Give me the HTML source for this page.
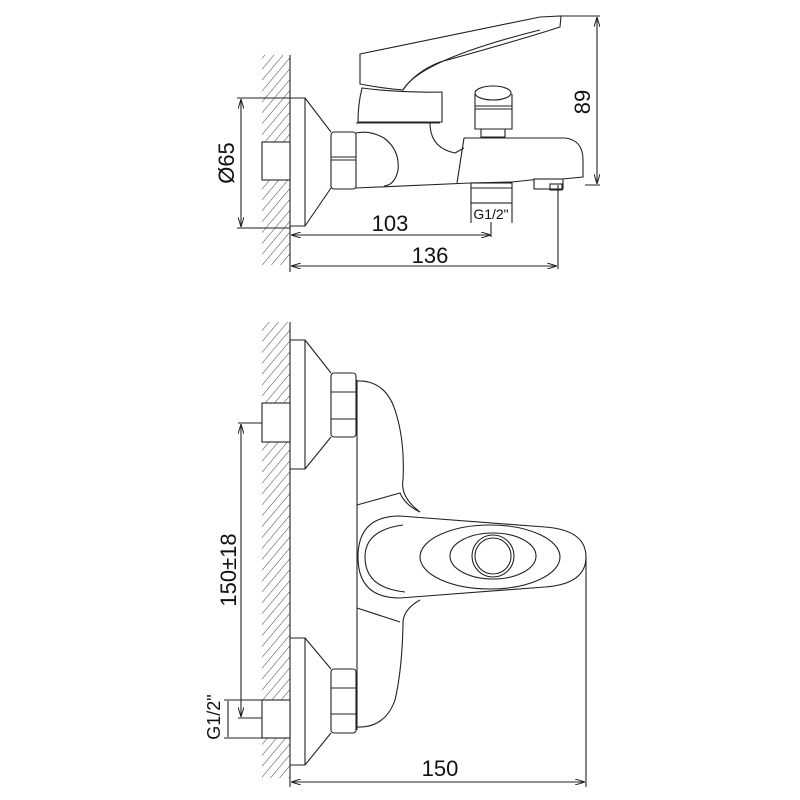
<!DOCTYPE html>
<html><head><meta charset="utf-8"><style>html,body{margin:0;padding:0;background:#fff}svg{display:block}text{font-family:"Liberation Sans",sans-serif;fill:#111}</style></head><body>
<svg width="800" height="800" viewBox="0 0 800 800" xmlns="http://www.w3.org/2000/svg">
<defs>
<pattern id="h" width="7" height="7" patternUnits="userSpaceOnUse" patternTransform="rotate(40)">
<line x1="0" y1="0" x2="0" y2="7" stroke="#444" stroke-width="1"/>
</pattern>
<marker id="a" markerWidth="10" markerHeight="6" refX="10" refY="3" orient="auto-start-reverse" markerUnits="userSpaceOnUse"><path d="M0,0 L10,3 L0,6" fill="none" stroke="#222" stroke-width="1"/></marker>
</defs>
<g fill="none" stroke="#222" stroke-width="1.1">
<!-- TOP VIEW -->
<rect x="262" y="55" width="28" height="210" fill="url(#h)" stroke="none"/>
<line x1="290" y1="55" x2="290" y2="272"/>
<rect x="262" y="142" width="28" height="38" fill="#fff"/>
<path d="M290,98 H305 V226 H290"/>
<path d="M305,98 L331,132 M305,226 L331,188"/>
<rect x="331" y="132" width="25" height="57" rx="3" fill="#fff"/>
<line x1="331" y1="160" x2="356" y2="160"/>
<line x1="331" y1="157" x2="356" y2="157"/>
<!-- body -->
<path d="M356,133 Q370,130 384,138 Q400,150 398,170 Q395,185 384,186"/>
<path d="M356,123 H440"/>
<path d="M430,123 Q430,148 455,153 L464,148"/>
<path d="M464,138 L457,183"/>
<path d="M356,188 L470,183 L512,182 L540,179"/>
<path d="M464,138 H565 Q583,140 583,160 V177 L562,179"/>
<rect x="534" y="179" width="29" height="10" fill="#fff"/>
<rect x="550" y="184" width="12" height="6"/>
<!-- upper cylinder -->
<path d="M362,88 Q400,93 442,92 V122 H358 Q358,104 362,88 Z"/>
<!-- handle -->
<path d="M360,54 L540,17 L561,16 L560,27 Q520,40 440,62 Q415,72 403,90 Q380,88 360,84 Z" fill="#fff"/>
<path d="M403,90 Q420,60 540,30"/>
<!-- diverter -->
<ellipse cx="493" cy="93" rx="18" ry="7" fill="#fff"/>
<path d="M475,94 V129 H512 V94"/>
<line x1="475" y1="106" x2="512" y2="106"/><line x1="475" y1="109" x2="512" y2="109"/>
<path d="M481,129 V137 H505 V129"/>
<!-- bottom connection -->
<rect x="471" y="183" width="41" height="20" fill="#fff"/>
<line x1="471" y1="188" x2="512" y2="188"/>
<path d="M471,203 V223 M512,203 V223"/>
<!-- dims -->
<path d="M290,98 H237 M290,228 H237"/>
<line x1="241" y1="99" x2="241" y2="227" marker-start="url(#a)" marker-end="url(#a)"/>
<path d="M561,16 H600 M585,185 H600"/>
<line x1="597" y1="17" x2="597" y2="184" marker-start="url(#a)" marker-end="url(#a)"/>
<line x1="291" y1="235" x2="491" y2="235" marker-start="url(#a)" marker-end="url(#a)"/>
<line x1="491" y1="222" x2="491" y2="237"/>
<line x1="558" y1="185" x2="558" y2="269"/>
<line x1="291" y1="266" x2="557" y2="266" marker-start="url(#a)" marker-end="url(#a)"/>

<!-- BOTTOM VIEW -->
<rect x="262" y="322" width="28" height="456" fill="url(#h)" stroke="none"/>
<line x1="290" y1="322" x2="290" y2="787"/>
<rect x="262" y="403" width="28" height="39" fill="#fff"/>
<rect x="262" y="700" width="28" height="38" fill="#fff"/>
<path d="M290,340 H305 V469 H290 M305,340 L331,373 M305,469 L331,437"/>
<rect x="331" y="373" width="25" height="64" rx="3" fill="#fff"/>
<line x1="331" y1="419" x2="356" y2="419"/><line x1="331" y1="392" x2="356" y2="392"/>
<path d="M290,638 H305 V765 H290 M305,638 L331,669 M305,765 L331,733"/>
<rect x="331" y="669" width="25" height="64" rx="3" fill="#fff"/>
<line x1="331" y1="714" x2="356" y2="714"/><line x1="331" y1="688" x2="356" y2="688"/>
<!-- body -->
<line x1="357" y1="380" x2="357" y2="730"/>
<path d="M357,381 Q385,380 395,410 Q405,440 403,480 Q400,497 420,512"/>
<path d="M357,505 L400,493 Q405,505 420,512"/>
<path d="M357,727 Q385,728 395,700 Q402,670 403,625 Q402,610 420,600"/>
<path d="M357,608 L400,622"/>
<!-- lever -->
<path d="M400,516 L545,527 Q586,530 586,557 Q586,584 545,587 L400,598 Q358,598 358,557 Q358,516 400,516 Z" fill="#fff"/>
<path d="M403,525 Q365,530 365,557 Q365,588 405,592"/>
<ellipse cx="490" cy="557" rx="70" ry="32"/>
<ellipse cx="493" cy="556" rx="43" ry="23"/>
<circle cx="493" cy="556" r="21"/>
<circle cx="493" cy="556" r="18"/>
<!-- dims -->
<path d="M262,423 H238 M262,718 H238"/>
<line x1="241" y1="424" x2="241" y2="717" marker-start="url(#a)" marker-end="url(#a)"/>
<path d="M262,700 H224 M262,738 H224"/>
<line x1="228" y1="701" x2="228" y2="737"/>
<line x1="586" y1="557" x2="586" y2="787"/>
<line x1="291" y1="782" x2="585" y2="782" marker-start="url(#a)" marker-end="url(#a)"/>
</g>
<g font-size="22">
<text x="236" y="163" text-anchor="middle" transform="rotate(-90 236 163)" dy="-2">Ø65</text>
<text x="598" y="102" text-anchor="middle" transform="rotate(-90 598 102)" dy="-8">89</text>
<text x="390" y="231" text-anchor="middle">103</text>
<text x="430" y="263" text-anchor="middle">136</text>
<text x="236" y="570" text-anchor="middle" transform="rotate(-90 236 570)">150±18</text>
<text x="440" y="776" text-anchor="middle">150</text>
</g>
<g font-size="14">
<text x="491" y="219" text-anchor="middle">G1/2"</text>
<text x="220" y="717" text-anchor="middle" font-size="18" transform="rotate(-90 220 717)">G1/2"</text>
</g>
</svg>
</body></html>
